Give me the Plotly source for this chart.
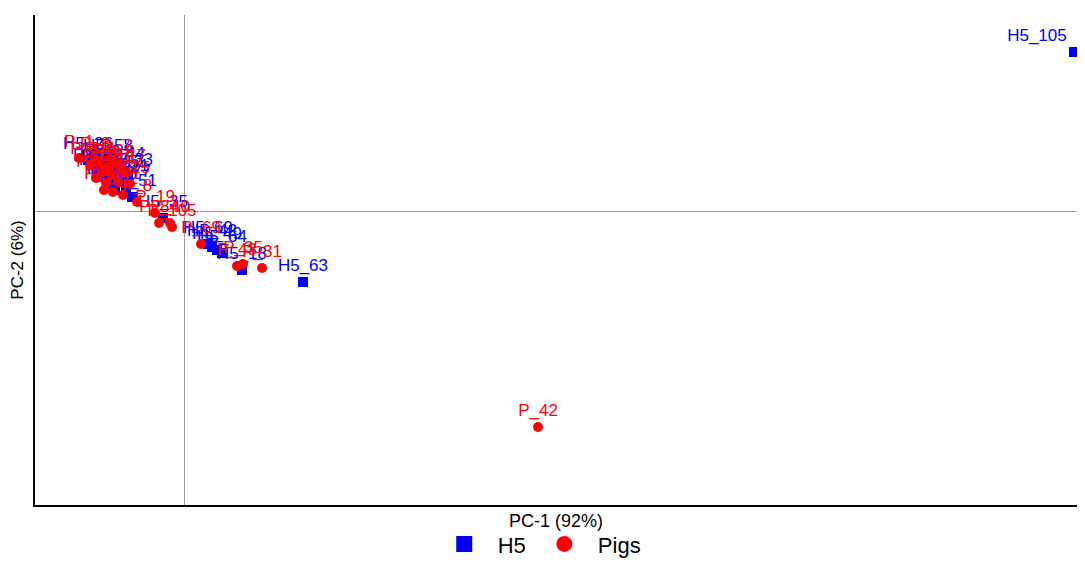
import plotly.graph_objects as go

# H5 group (blue squares)
h5_names = ["H5_105", "H5_63", "H5_18", "H5_64", "H5_49", "H5_42", "H5_69", "H5_35", "H5_51",
            "H5_26", "H5_3", "H5_7", "H5_12", "H5_15", "H5_21", "H5_30", "H5_33", "H5_40",
            "H5_44", "H5_58", "H5_77", "H5_81"]
h5_pc1 = [8.90, 1.19, 0.58, 0.38, 0.33, 0.28, 0.24, -0.21, -0.52,
          -0.96, -0.84, -0.74, -0.66, -0.80, -0.60, -0.72, -0.56, -0.86,
          -0.64, -0.76, -0.58, -0.69]
h5_pc2 = [1.59, -0.71, -0.59, -0.42, -0.39, -0.36, -0.33, -0.07, 0.14,
          0.51, 0.43, 0.39, 0.33, 0.35, 0.29, 0.27, 0.35, 0.39,
          0.41, 0.49, 0.23, 0.21]

# Pigs group (red circles)
pig_names = ["P_1", "P_42", "P_31", "P_35", "P_43", "P_69", "P_105", "P_84", "P_40", "P_19",
             "P_8", "P_2", "P_5", "P_10", "P_3", "P_4", "P_6", "P_7", "P_9", "P_11",
             "P_12", "P_14", "P_15", "P_17", "P_20", "P_23", "P_25"]
pig_pc1 = [-1.05, 3.54, 0.78, 0.59, 0.53, 0.17, -0.12, -0.25, -0.14, -0.29,
           -0.47, -0.61, -0.71, -0.80, -0.89, -0.84, -0.76, -0.68, -0.64, -0.72,
           -0.88, -0.66, -0.78, -0.58, -0.82, -0.94, -0.54]
pig_pc2 = [0.53, -2.16, -0.57, -0.53, -0.55, -0.33, -0.16, -0.12, -0.12, -0.02,
           0.09, 0.16, 0.19, 0.21, 0.51, 0.46, 0.44, 0.49, 0.43, 0.36,
           0.33, 0.29, 0.28, 0.39, 0.39, 0.46, 0.27]

x_title = "PC-1 (92%)"
y_title = "PC-2 (6%)"

BLUE = "#0000FF"
RED = "#FF0000"
FONT = "Arial, Liberation Sans, sans-serif"

h5_pos = ["top left" if n == "H5_105" else "top center" for n in h5_names]

fig = go.Figure()
fig.add_trace(go.Scatter(x=h5_pc1, y=h5_pc2, text=h5_names, mode="markers+text",
                         textposition=h5_pos, name="H5", showlegend=False, cliponaxis=False,
                         marker=dict(symbol="square", size=10, color=BLUE),
                         textfont=dict(color=BLUE, size=17, family=FONT)))
fig.add_trace(go.Scatter(x=pig_pc1, y=pig_pc2, text=pig_names, mode="markers+text",
                         textposition="top center", name="Pigs", showlegend=False, cliponaxis=False,
                         marker=dict(symbol="circle", size=10, color=RED),
                         textfont=dict(color=RED, size=17, family=FONT)))
# legend entries
fig.add_trace(go.Scatter(x=[None], y=[None], mode="markers", name="H5",
                         marker=dict(symbol="square", size=16, color=BLUE)))
fig.add_trace(go.Scatter(x=[None], y=[None], mode="markers", name="Pigs",
                         marker=dict(symbol="circle", size=16, color=RED)))

fig.add_annotation(text=x_title, xref="paper", yref="paper", x=0.5, y=-0.033,
                   xanchor="center", yanchor="middle", showarrow=False,
                   font=dict(size=18, family=FONT, color="black"))

fig.update_layout(
    width=1069, height=551,
    margin=dict(l=27, r=0, t=7, b=54),
    plot_bgcolor="white", paper_bgcolor="white",
    font=dict(family=FONT, color="black"),
    legend=dict(orientation="h", xref="container", yref="container",
                x=0.496, xanchor="center", y=0.027, yanchor="middle",
                font=dict(size=22), itemwidth=57),
    xaxis=dict(range=[-1.49, 8.93], showgrid=False, showticklabels=False, ticks="",
               zeroline=True, zerolinecolor="#999999", zerolinewidth=1,
               showline=True, linecolor="black", linewidth=2, automargin=False),
    yaxis=dict(range=[-2.94, 1.96], showgrid=False, showticklabels=False, ticks="",
               zeroline=True, zerolinecolor="#999999", zerolinewidth=1,
               showline=True, linecolor="black", linewidth=2, automargin=False,
               title=dict(text=y_title, font=dict(size=17))),
)

fig.write_html("out.html")
